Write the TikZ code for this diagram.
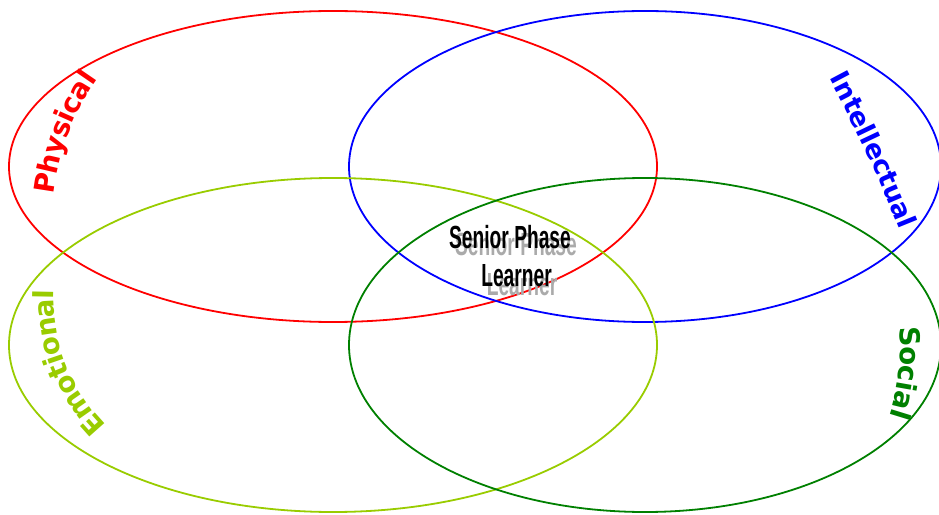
\documentclass[tikz,border=0pt]{standalone}
\usepackage{fontspec}
\usepackage{graphicx}
\usetikzlibrary{decorations.text}
\newfontfamily\wfont{DejaVu Sans}
\newfontfamily\cfont{Liberation Sans}
\definecolor{physred}{RGB}{255,0,0}
\definecolor{intblue}{RGB}{0,0,255}
\definecolor{emogreen}{RGB}{153,204,0}
\definecolor{socgreen}{RGB}{0,128,0}
\definecolor{shadowgrey}{RGB}{170,170,170}
\tikzset{
  ring/.style={line width=0.45pt},
  curvedword/.style={decorate, decoration={text along path, text align=center, raise=-2pt, text={#1}}},
  centertext/.style={font=\cfont\bfseries\fontsize{8}{8}\selectfont, inner sep=0pt, anchor=base},
}
\begin{document}
\begin{tikzpicture}[x=0.25pt,y=0.25pt]
\useasboundingbox (0,0) rectangle (939,514);
% circles
\draw[ring, physred] (333,347.5) ellipse [x radius=324, y radius=155.5];
\draw[ring, intblue] (645,347.5) ellipse [x radius=296, y radius=155.5];
\draw[ring, emogreen] (333,169) ellipse [x radius=324, y radius=167];
\draw[ring, socgreen] (645,169) ellipse [x radius=296, y radius=167];
% curved labels
\path[curvedword={|\wfont\bfseries\fontsize{6.9}{6.9}\selectfont\color{physred}|Physical}]
  (44,265) .. controls (40,354.3) and (68,426.3) .. (128,481);
\path[curvedword={|\wfont\bfseries\fontsize{6.6}{6.6}\selectfont\color{intblue}|Intellectual}]
  (808,490) .. controls (854,412) and (894,326) .. (928,233);
\path[curvedword={|\wfont\bfseries\fontsize{6.9}{6.9}\selectfont\color{socgreen}|Social}]
  (898,229) .. controls (916,170.7) and (910,113) .. (880,56);
\path[curvedword={|\wfont\bfseries\fontsize{6.9}{6.9}\selectfont\color{emogreen}|Emotional}]
  (130,57) .. controls (60,110) and (34,179) .. (51,264);
% centre text
\node[centertext, text=shadowgrey] (shadowA) at (516,258) {\scalebox{0.6}[1]{Senior Phase}};
\node[centertext, text=shadowgrey] (shadowB) at (522,219) {\scalebox{0.6}[1]{Learner}};
\node[centertext] (lineA) at (510,266) {\scalebox{0.6}[1]{Senior Phase}};
\node[centertext] (lineB) at (516.5,227) {\scalebox{0.6}[1]{Learner}};
\end{tikzpicture}
\end{document}
